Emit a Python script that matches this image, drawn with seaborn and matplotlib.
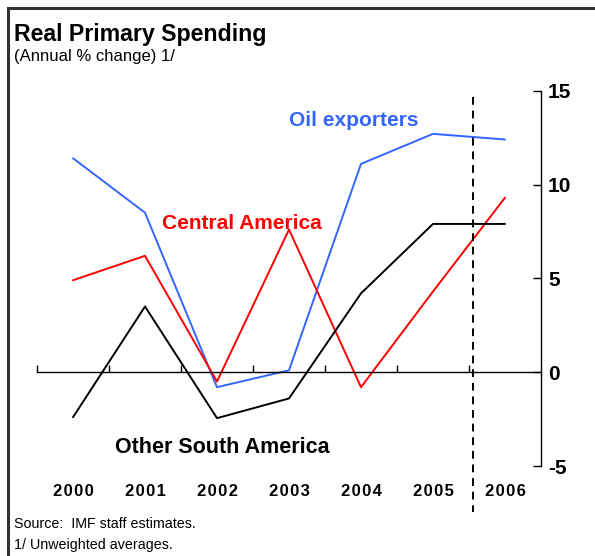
import matplotlib
matplotlib.use("Agg")
import matplotlib.pyplot as plt
import matplotlib.transforms as mtransforms
from matplotlib.patches import Rectangle
import seaborn as sns
import pandas as pd

years = ["2000", "2001", "2002", "2003", "2004", "2005", "2006"]
oil_exporters = [11.4, 8.5, -0.8, 0.1, 11.1, 12.7, 12.4]
central_america = [4.9, 6.2, -0.5, 7.6, -0.8, 4.3, 9.3]
other_south_america = [-2.4, 3.5, -2.45, -1.4, 4.2, 7.9, 7.9]
series_names = ["Oil exporters", "Central America", "Other South America"]
series_colors = ["#3366FF", "#FF0000", "#000000"]
y_ticks = [-5, 0, 5, 10, 15]

sns.set_theme(style="white")
plt.rcParams["font.family"] = ["Liberation Sans", "DejaVu Sans"]
plt.rcParams["text.color"] = "black"
plt.rcParams["xtick.color"] = "black"
plt.rcParams["ytick.color"] = "black"

rows = []
for name, vals in zip(series_names, [oil_exporters, central_america, other_south_america]):
    for i, (yr, v) in enumerate(zip(years, vals)):
        rows.append({"x": i, "year": yr, "value": v, "series": name})
df = pd.DataFrame(rows)

W, H = 595, 556
fig = plt.figure(figsize=(W / 100, H / 100), dpi=100)
left, right = 37 / W, 541 / W
top, bottom = 1 - 90.7 / H, 1 - 466 / H
ax = fig.add_axes([left, bottom, right - left, top - bottom])

sns.lineplot(data=df, x="x", y="value", hue="series", palette=dict(zip(series_names, series_colors)),
             hue_order=series_names, linewidth=1.4, legend=False, ax=ax, sort=False)

ax.set_xlim(-0.5, 6.5)
ax.set_ylim(-5, 15)
ax.set_xlabel("")
ax.set_ylabel("")

# spines
ax.spines["left"].set_visible(False)
ax.spines["top"].set_visible(False)
ax.spines["right"].set_visible(True)
ax.spines["right"].set_color("black")
ax.spines["right"].set_linewidth(1.0)
ax.spines["bottom"].set_position(("data", 0))
ax.spines["bottom"].set_color("black")
ax.spines["bottom"].set_linewidth(1.0)

ax.yaxis.tick_right()
ax.set_yticks(y_ticks)
ax.set_yticklabels([str(t) for t in y_ticks], fontsize=15, fontweight="bold", color="black")
ax.tick_params(axis="y", which="major", direction="in", length=6, width=1.0, color="black", pad=5,
               right=True, left=False, labelcolor="black")

ax.set_xticks([i - 0.5 for i in range(len(years))])
ax.set_xticklabels([])
ax.tick_params(axis="x", which="major", direction="in", length=5, width=1.0, color="black", bottom=True)

# dashed projection line
dash_trans = mtransforms.blended_transform_factory(ax.transData, fig.transFigure)
ax.plot([5.55, 5.55], [1 - 97 / H, 1 - 512 / H], transform=dash_trans, color="black",
        linestyle=(0, (4, 3)), linewidth=1.4, clip_on=False)

# year labels
for i, yr in enumerate(years):
    ax.text(i, 1 - 491 / H, "\u200a".join(yr), transform=dash_trans, ha="center", va="center",
            fontsize=12, fontweight="bold", color="black")

# series labels
ax.text(3.9, 13.4, "Oil exporters", color="#3366FF", fontsize=15, fontweight="bold", ha="center", va="center")
ax.text(2.35, 7.9, "Central America", color="#FF0000", fontsize=15, fontweight="bold", ha="center", va="center")
ax.text(2.07, -3.99, "Other South America", color="#000000", fontsize=15.5, fontweight="bold", ha="center", va="center")

# titles and notes
fig.text(14 / W, 1 - 34 / H, "Real Primary Spending", fontsize=16.7, fontweight="bold", ha="left", va="center", color="black")
fig.text(14 / W, 1 - 57 / H, "(Annual % change) 1/", fontsize=12, ha="left", va="center", color="black")
fig.text(14 / W, 1 - 524 / H, "Source:  IMF staff estimates.", fontsize=10.3, ha="left", va="center", color="black")
fig.text(14 / W, 1 - 545 / H, "1/ Unweighted averages.", fontsize=10.3, ha="left", va="center", color="black")

# frame
fig.patches.append(Rectangle((8 / W, -0.05), 1.0, 1 - 8 / H + 0.05, transform=fig.transFigure,
                             fill=False, edgecolor="#333333", linewidth=2.2))

fig.savefig("out.png", dpi=100)
